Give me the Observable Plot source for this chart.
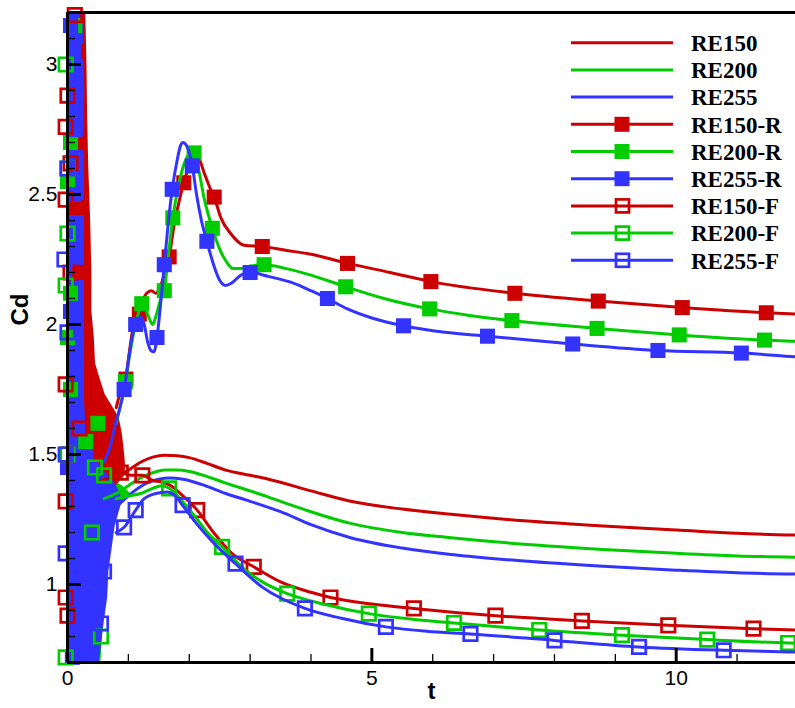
<!DOCTYPE html>
<html><head><meta charset="utf-8">
<script src="https://cdn.jsdelivr.net/npm/d3@7"></script>
<script src="https://cdn.jsdelivr.net/npm/@observablehq/plot@0.6"></script>
<style>body{margin:0;background:#fff}</style>
</head><body><div id="chart"></div>
<script>
// ---------- data ----------
const seriesNames = ["RE150","RE200","RE255","RE150-R","RE200-R","RE255-R","RE150-F","RE200-F","RE255-F"];
const seriesColors = ["#cc0000","#00cc00","#3333ff"];
const xMajorTicks = [0,5,10];
const xMinorTicks = [1,2,3,4,6,7,8,9,11];
const yMajorTicks = [1,1.5,2,2.5,3];
const yMinorTicks = [0.8,0.9,1.1,1.2,1.3,1.4,1.6,1.7,1.8,1.9,2.1,2.2,2.3,2.4,2.6,2.7,2.8,2.9,3.1];

// plain curves [t, Cd]
const re150 = [[0.55,1.40],[0.7,1.41],[0.85,1.42],[1.0,1.44],[1.2,1.47],[1.4,1.49],[1.6,1.497],[1.8,1.495],[2.0,1.488],[2.3,1.465],[2.6,1.44],[3.0,1.42],[3.3,1.405],[4.0,1.36],[4.65,1.32],[5.5,1.29],[6.3,1.27],[7.5,1.245],[8.8,1.225],[10,1.21],[11,1.197],[12,1.19]];
const re200 = [[0.6,1.33],[0.8,1.35],[1.0,1.38],[1.2,1.41],[1.4,1.43],[1.6,1.44],[1.8,1.44],[2.0,1.435],[2.3,1.415],[2.6,1.39],[3.0,1.36],[3.5,1.32],[4.0,1.28],[4.65,1.235],[5.5,1.20],[6.3,1.18],[7.5,1.155],[8.8,1.135],[10,1.12],[11,1.11],[12,1.105]];
const re255 = [[0.7,1.28],[0.9,1.32],[1.1,1.36],[1.3,1.39],[1.5,1.405],[1.67,1.41],[1.9,1.405],[2.2,1.385],[2.6,1.35],[3.0,1.32],[3.5,1.28],[4.0,1.23],[4.65,1.18],[5.5,1.14],[6.3,1.115],[7.5,1.09],[8.8,1.07],[10,1.055],[11,1.045],[12,1.04]];

// R curves
const re150R = [[0.80,1.68],[0.88,1.75],[0.96,1.80],[1.02,1.90],[1.07,1.98],[1.12,2.03],[1.18,2.06],[1.25,2.10],[1.30,2.12],[1.38,2.13],[1.45,2.12],[1.53,2.15],[1.60,2.20],[1.67,2.26],[1.75,2.38],[1.83,2.47],[1.91,2.545],[2.0,2.61],[2.08,2.645],[2.15,2.64],[2.25,2.58],[2.35,2.52],[2.41,2.49],[2.52,2.41],[2.68,2.35],[2.9,2.305],[3.2,2.30],[3.6,2.285],[4.0,2.27],[4.6,2.235],[5.3,2.20],[5.97,2.165],[7.35,2.12],[8.72,2.09],[10.1,2.065],[11.48,2.045],[12,2.04]];
const re200R = [[0.80,1.62],[0.88,1.70],[0.95,1.78],[1.02,1.88],[1.08,1.96],[1.15,2.03],[1.22,2.08],[1.28,2.06],[1.35,2.02],[1.40,2.00],[1.45,2.03],[1.52,2.09],[1.59,2.13],[1.65,2.25],[1.73,2.41],[1.82,2.53],[1.92,2.62],[2.0,2.655],[2.08,2.66],[2.15,2.60],[2.25,2.48],[2.38,2.37],[2.5,2.29],[2.6,2.245],[2.72,2.215],[2.85,2.215],[3.0,2.225],[3.23,2.23],[3.6,2.215],[4.0,2.19],[4.57,2.145],[5.2,2.10],[5.95,2.06],[6.6,2.035],[7.3,2.015],[8.7,1.985],[10.05,1.96],[11.45,1.94],[12,1.935]];
const re255R = [[0.60,1.47],[0.70,1.53],[0.80,1.63],[0.85,1.67],[0.93,1.75],[1.0,1.86],[1.06,1.95],[1.12,2.0],[1.2,2.03],[1.26,2.0],[1.32,1.93],[1.37,1.90],[1.42,1.895],[1.47,1.95],[1.53,2.08],[1.59,2.23],[1.66,2.40],[1.72,2.52],[1.80,2.63],[1.86,2.69],[1.9,2.70],[1.95,2.69],[2.05,2.61],[2.12,2.50],[2.2,2.40],[2.29,2.32],[2.4,2.23],[2.5,2.17],[2.6,2.15],[2.7,2.16],[2.85,2.19],[3.0,2.20],[3.3,2.185],[3.7,2.16],[4.0,2.13],[4.27,2.10],[4.6,2.06],[5.0,2.025],[5.52,1.995],[6.2,1.97],[6.9,1.955],[8.3,1.925],[9.7,1.90],[11.07,1.89],[12,1.875]];

// F curves
const re150F = [[0.7,1.42],[0.875,1.43],[1.05,1.42],[1.23,1.42],[1.4,1.40],[1.55,1.395],[1.7,1.38],[1.9,1.34],[2.13,1.286],[2.4,1.20],[2.7,1.12],[3.06,1.068],[3.5,1.01],[4.0,0.97],[4.32,0.95],[5.0,0.925],[5.69,0.908],[7.03,0.88],[8.45,0.86],[9.87,0.843],[11.27,0.83],[12,0.825]];
const re200F = [[0.8,1.33],[1.0,1.34],[1.2,1.35],[1.4,1.37],[1.55,1.38],[1.67,1.37],[1.85,1.33],[2.1,1.26],[2.3,1.20],[2.54,1.145],[2.9,1.06],[3.2,1.01],[3.61,0.965],[4.2,0.925],[4.95,0.888],[5.6,0.868],[6.35,0.852],[7.75,0.825],[9.11,0.805],[10.51,0.788],[11.84,0.775],[12,0.774]];
const re255F = [[0.8,1.2],[0.93,1.22],[1.12,1.286],[1.26,1.33],[1.45,1.35],[1.64,1.356],[1.75,1.345],[1.89,1.305],[2.1,1.24],[2.4,1.16],[2.76,1.08],[3.2,0.99],[3.9,0.908],[4.5,0.87],[5.23,0.837],[5.9,0.82],[6.62,0.81],[8.0,0.785],[9.39,0.76],[10.78,0.747],[12,0.74]];

// marker positions
const re150RMarks = [[0.96,1.79],[1.18,2.04],[1.67,2.26],[1.91,2.545],[2.41,2.49],[3.2,2.30],[4.6,2.235],[5.97,2.165],[7.35,2.12],[8.72,2.09],[10.1,2.065],[11.48,2.045]];
const re200RMarks = [[0.95,1.78],[1.22,2.08],[1.59,2.13],[1.73,2.41],[2.08,2.66],[2.38,2.37],[3.23,2.23],[4.57,2.145],[5.95,2.06],[7.3,2.015],[8.7,1.985],[10.05,1.96],[11.45,1.94]];
const re255RMarks = [[0.93,1.75],[1.12,2.0],[1.47,1.95],[1.59,2.23],[1.72,2.52],[2.05,2.61],[2.29,2.32],[3.0,2.20],[4.27,2.10],[5.52,1.995],[6.9,1.955],[8.3,1.925],[9.7,1.90],[11.07,1.89]];
const re150FMarks = [[0.875,1.43],[1.23,1.42],[2.13,1.286],[3.06,1.068],[4.32,0.95],[5.69,0.908],[7.03,0.88],[8.45,0.86],[9.87,0.843],[11.27,0.83]];
const re200FMarks = [[0.6,1.42],[1.67,1.37],[2.54,1.145],[3.61,0.965],[4.95,0.888],[6.35,0.852],[7.75,0.825],[9.11,0.805],[10.51,0.788],[11.84,0.775]];
const re255FMarks = [[0.93,1.22],[1.12,1.286],[1.89,1.305],[2.76,1.08],[3.9,0.908],[5.23,0.837],[6.62,0.81],[8.0,0.785],[9.39,0.76],[10.78,0.747]];

// oscillating start-up region: right edge (t) of each colour's band, listed by Cd
const greenEnvCd = [3.2, 2.6, 2.2, 2.0, 1.8, 1.65, 1.58, 1.52, 1.47, 1.42, 1.38, 1.34, 1.30, 1.2, 1.0, 0.7];
const greenEnvT  = [0.29,0.31,0.34,0.38,0.42,0.46,0.52,0.60,0.55,0.55,0.90,1.08,0.75,0.62,0.62,0.55];
const redEnvCd   = [3.2, 3.0, 2.8, 2.6, 2.4, 2.2, 2.05, 1.95, 1.85, 1.78, 1.73, 1.68, 1.64, 1.58, 1.52, 1.47, 1.42, 1.38, 1.36, 1.3, 1.0, 0.7];
const redEnvT    = [0.30,0.32,0.33,0.35,0.38,0.40,0.40,0.44,0.46,0.55,0.62,0.75,0.85,0.90,0.93,0.95,0.95,0.80,0.60,0.50,0.50,0.45];
const blueEnvCd  = [3.2, 2.0, 1.7, 1.62, 1.55, 1.5, 1.45, 1.40, 1.36, 1.32, 1.28, 1.22, 1.15, 1.05, 0.95, 0.85, 0.75, 0.7];
const blueEnvT   = [0.27,0.28,0.28,0.30,0.35,0.45,0.55,0.75,0.85,0.90,0.85,0.78,0.74,0.68,0.66,0.60,0.55,0.52];

// start-up markers near t = 0
const earlyRedOpen    = [[0.12,3.19],[0.0,2.88],[-0.03,2.76],[0.05,2.62],[-0.03,2.48],[0.05,2.2],[-0.03,1.77],[0.2,1.6],[0.0,1.5],[-0.03,1.32],[-0.03,0.95],[0.0,0.88]];
const earlyRedFilled  = [[0.15,3.05],[0.15,2.7],[0.15,2.45],[0.2,2.2],[0.45,1.55],[0.55,1.5]];
const earlyGreenOpen  = [[-0.03,3.0],[0.0,2.6],[0.0,2.35],[-0.03,2.15],[0.0,1.5],[0.45,1.45],[-0.03,0.72],[0.55,0.8],[0.4,1.2]];
const earlyGreenFilled= [[0.12,3.15],[0.05,2.7],[0.0,2.55],[0.05,2.12],[0.0,1.95],[0.05,1.75],[0.3,1.55],[0.5,1.62]];
const earlyBlueOpen   = [[-0.05,2.25],[0.0,1.97],[-0.03,1.5],[0.4,1.3],[0.6,1.05],[0.55,0.85],[-0.03,1.12],[0.0,2.6]];
const earlyBlueFilled = [[0.05,3.15],[0.1,3.05],[0.15,2.9],[0.12,2.75],[0.1,2.5],[0.05,2.05],[0.1,1.62],[0.0,1.45],[0.1,1.2],[0.08,0.72]];

// ---------- chart ----------
const W = 795, H = 708, mL = 67, mR = 0, mT = 12, mB = 46;
const plotW = W - mL - mR, plotH = H - mT - mB;
const [cR, cG, cB] = seriesColors;
const pts = a => a.map(([t, y]) => ({t, y}));
const env = (cds, ts) => cds.map((y, i) => ({y, t: ts[i]}));
const LW = 3;

const lineM = (a, c) => Plot.line(pts(a), {x: "t", y: "y", stroke: c, strokeWidth: LW, curve: "monotone-x"});
const filled = (a, c) => Plot.dot(pts(a), {x: "t", y: "y", symbol: "square", r: 8.5, fill: c, stroke: "none"});
const open = (a, c) => Plot.dot(pts(a), {x: "t", y: "y", symbol: "square", r: 7.6, fill: "none", stroke: c, strokeWidth: 2.7});

const chart = Plot.plot({
  width: W, height: H,
  marginLeft: mL, marginRight: mR, marginTop: mT, marginBottom: mB,
  style: {fontFamily: "'Liberation Sans', Arial, sans-serif", background: "white", overflow: "visible"},
  x: {domain: [0, 11.96]},
  y: {domain: [0.7, 3.2]},
  marks: [
    Plot.areaX(env(greenEnvCd, greenEnvT), {y: "y", x1: 0, x2: "t", fill: cG}),
    Plot.areaX(env(redEnvCd, redEnvT), {y: "y", x1: 0, x2: "t", fill: cR}),
    Plot.areaX(env(blueEnvCd, blueEnvT), {y: "y", x1: 0, x2: "t", fill: cB}),
    lineM(re150, cR), lineM(re200, cG), lineM(re255, cB),
    lineM(re150R, cR), filled(re150RMarks, cR), filled(earlyRedFilled, cR),
    lineM(re200R, cG), filled(re200RMarks, cG), filled(earlyGreenFilled, cG),
    lineM(re255R, cB), filled(re255RMarks, cB), filled(earlyBlueFilled, cB),
    lineM(re150F, cR), open(re150FMarks, cR), open(earlyRedOpen, cR),
    lineM(re200F, cG), open(re200FMarks, cG), open(earlyGreenOpen, cG),
    lineM(re255F, cB), open(re255FMarks, cB), open(earlyBlueOpen, cB),
    // frame
    Plot.ruleY([3.2], {stroke: "black", strokeWidth: 3}),
    Plot.ruleY([0.7], {stroke: "black", strokeWidth: 3}),
    Plot.ruleX([0], {stroke: "black", strokeWidth: 3}),
    // inward ticks
    Plot.tickY(yMajorTicks, {y: d => d, stroke: "black", strokeWidth: 3, insetRight: plotW - 14}),
    Plot.tickY(yMinorTicks, {y: d => d, stroke: "black", strokeWidth: 1.3, insetRight: plotW - 8}),
    Plot.tickX(xMajorTicks, {x: d => d, stroke: "black", strokeWidth: 3, insetTop: plotH - 14}),
    Plot.tickX(xMinorTicks, {x: d => d, stroke: "black", strokeWidth: 1.3, insetTop: plotH - 8}),
    Plot.axisY({ticks: yMajorTicks, tickSize: 0, tickPadding: 10, fontSize: 21, tickFormat: d => String(d), label: null}),
    Plot.axisX({ticks: xMajorTicks, tickSize: 0, tickPadding: 8, fontSize: 21, tickFormat: d => String(d), label: null}),
    Plot.text(["Cd"], {text: d => d, frameAnchor: "left", rotate: -90, dx: -47, dy: -12, fontWeight: "bold", fontSize: 24}),
    Plot.text(["t"], {text: d => d, frameAnchor: "bottom", dy: 36, fontWeight: "bold", fontSize: 24})
  ]
});

// legend
const svg = d3.select(chart);
const leg = svg.append("g")
  .attr("font-family", "'Liberation Serif', 'Times New Roman', serif")
  .attr("font-weight", "bold").attr("font-size", 23).attr("text-anchor", "start");
seriesNames.forEach((name, i) => {
  const y = 42.7 + i * 27.2;
  const c = seriesColors[i % 3];
  leg.append("line").attr("x1", 571).attr("x2", 673).attr("y1", y).attr("y2", y).attr("stroke", c).attr("stroke-width", LW);
  if (i >= 3 && i < 6) leg.append("rect").attr("x", 614.5).attr("y", y - 7.5).attr("width", 15).attr("height", 15).attr("fill", c);
  if (i >= 6) leg.append("rect").attr("x", 616).attr("y", y - 6.5).attr("width", 13).attr("height", 13).attr("fill", "none").attr("stroke", c).attr("stroke-width", 2.7);
  leg.append("text").attr("x", 691).attr("y", y).attr("dy", "0.36em").attr("fill", "black").attr("text-anchor", "start").text(name);
});
document.getElementById("chart").appendChild(chart);
</script>
</body></html>
